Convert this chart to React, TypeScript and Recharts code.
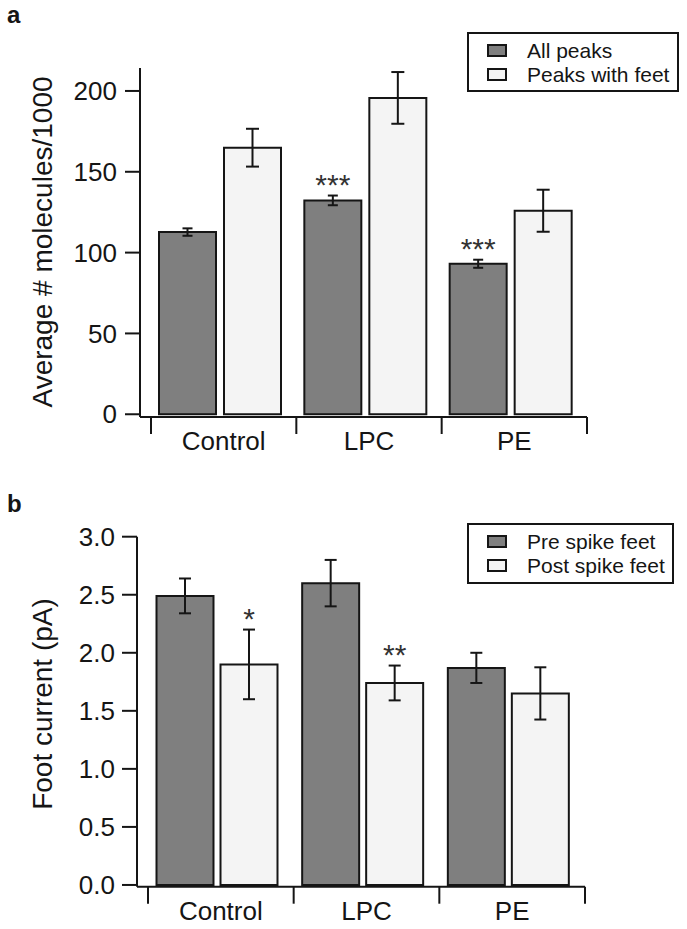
import React from "react";
import { Bar, BarChart, ErrorBar, LabelList, Legend, XAxis, YAxis } from "recharts";

const groups = ["Control", "LPC", "PE"];

// panel a
const allPeaks = [112.7, 132.3, 93.1];
const allPeaksErr = [2.3, 3, 2.5];
const allPeaksSig = ["", "***", "***"];
const peaksWithFeet = [164.9, 195.7, 125.9];
const peaksWithFeetErr = [11.7, 16, 13];
const aTicks = [0, 50, 100, 150, 200];
const aNames = ["All peaks", "Peaks with feet"];

// panel b
const preSpike = [2.49, 2.6, 1.87];
const preSpikeErr = [0.15, 0.2, 0.13];
const postSpike = [1.9, 1.74, 1.65];
const postSpikeErr = [0.3, 0.15, 0.225];
const postSpikeSig = ["*", "**", ""];
const bTicks = [0, 0.5, 1, 1.5, 2, 2.5, 3];
const bNames = ["Pre spike feet", "Post spike feet"];

const dataA = groups.map((g, i) => ({
  group: g,
  all: allPeaks[i],
  allErr: allPeaksErr[i],
  feet: peaksWithFeet[i],
  feetErr: peaksWithFeetErr[i],
}));

const dataB = groups.map((g, i) => ({
  group: g,
  pre: preSpike[i],
  preErr: preSpikeErr[i],
  post: postSpike[i],
  postErr: postSpikeErr[i],
}));

const FONT = "'Liberation Sans', Arial, Helvetica, sans-serif";
const INK = "#151515";
const DARK = "#7f7f7f";
const LIGHT = "#f4f4f4";

// x tick: category label + boundary ticks between groups
const makeTick = (axisY: number, shift: number, bw: number) => (p: any) => {
  const cx = p.x + shift;
  const last = p.index === groups.length - 1;
  return (
    <g>
      <line x1={cx - bw / 2} x2={cx - bw / 2} y1={axisY} y2={axisY + 17} stroke={INK} strokeWidth={2} />
      {last && <line x1={cx + bw / 2} x2={cx + bw / 2} y1={axisY} y2={axisY + 17} stroke={INK} strokeWidth={2} />}
      <text x={cx} y={axisY + 33} textAnchor="middle" fontSize={26} fill={INK} fontFamily={FONT}>
        {p.payload.value}
      </text>
    </g>
  );
};

// significance stars above the error bar
const makeStars = (sig: string[], err: number[]) => (p: any) => {
  const i = p.index;
  if (!sig[i]) return null;
  const vb = p.viewBox ?? p;
  const { x, y, width, height } = vb;
  const v = Number(p.value);
  const errTop = y - (err[i] * height) / v;
  return (
    <text x={x + width / 2} y={errTop - 1} textAnchor="middle" fontSize={30} fill="#333" fontFamily={FONT}>
      {sig[i]}
    </text>
  );
};

const makeLegend = (w: number, h: number, order: string[]) => (p: any) => {
  const items = [...(p.payload || [])].sort((a: any, b: any) => order.indexOf(a.value) - order.indexOf(b.value));
  return (
    <svg width={w} height={h} style={{ display: "block" }}>
      <rect x={1} y={1} width={w - 2} height={h - 2} fill="#fff" stroke={INK} strokeWidth={2} />
      {items.map((it: any, i: number) => (
        <g key={i}>
          <rect x={21} y={13 + i * 24} width={18} height={11} fill={it.color} stroke={INK} strokeWidth={2} />
          <text x={60} y={26 + i * 24} fontSize={21} fill={INK} fontFamily={FONT}>
            {it.value}
          </text>
        </g>
      ))}
    </svg>
  );
};

const PanelTitle = ({ letter, y }: { letter: string; y: number }) => (
  <div
    style={{
      position: "absolute",
      left: 7,
      top: y,
      fontFamily: FONT,
      fontWeight: "bold",
      fontSize: 24,
      lineHeight: "26px",
      color: INK,
    }}
  >
    {letter}
  </div>
);

export default function App() {
  return (
    <div style={{ position: "absolute", left: 0, top: 0, width: 687, height: 929, background: "#fff", fontFamily: FONT }}>
      <div style={{ position: "absolute", left: 0, top: 0 }}>
        <BarChart width={687} height={460} data={dataA} margin={{ top: 68, right: 100, left: 0, bottom: 0 }} barGap={8} barSize={57}>
          <XAxis
            dataKey="group"
            height={43}
            padding={{ left: 7, right: 4 }}
            axisLine={{ stroke: INK, strokeWidth: 2 }}
            tickLine={false}
            interval={0}
            tick={makeTick(417, 4, 436 / 3)}
          />
          <YAxis
            width={140}
            domain={[-1.7, 214.2]}
            allowDataOverflow
            ticks={aTicks}
            interval={0}
            tickSize={15}
            tickMargin={8}
            axisLine={{ stroke: INK, strokeWidth: 2 }}
            tickLine={{ stroke: INK, strokeWidth: 2 }}
            tick={{ fill: INK, fontSize: 26, fontFamily: FONT }}
            label={{
              content: () => (
                <text x={42} y={242} transform="rotate(-90 42 242)" textAnchor="middle" dominantBaseline="central" fontSize={28} fill={INK} fontFamily={FONT}>
                  Average # molecules/1000
                </text>
              ),
            }}
          />
          <Legend
            layout="vertical"
            align="center"
            verticalAlign="middle"
            content={makeLegend(212, 60, aNames)}
            wrapperStyle={{ position: "absolute", left: 467, top: 32, width: 212, height: 60 }}
          />
          <Bar dataKey="all" name={aNames[0]} fill={DARK} stroke={INK} strokeWidth={2} isAnimationActive={false}>
            <ErrorBar dataKey="allErr" width={5} stroke={INK} strokeWidth={2} />
            <LabelList dataKey="all" content={makeStars(allPeaksSig, allPeaksErr)} />
          </Bar>
          <Bar dataKey="feet" name={aNames[1]} fill={LIGHT} stroke={INK} strokeWidth={2} isAnimationActive={false}>
            <ErrorBar dataKey="feetErr" width={6.5} stroke={INK} strokeWidth={2} />
          </Bar>
        </BarChart>
      </div>

      <div style={{ position: "absolute", left: 0, top: 470 }}>
        <BarChart width={687} height={460} data={dataB} margin={{ top: 66.7, right: 102, left: 0, bottom: 0 }} barGap={7} barSize={57}>
          <XAxis
            dataKey="group"
            height={43.3}
            padding={{ left: 7.5, right: 3.5 }}
            axisLine={{ stroke: INK, strokeWidth: 2 }}
            tickLine={false}
            interval={0}
            tick={makeTick(416.7, 3.5, 437 / 3)}
          />
          <YAxis
            width={137}
            domain={[-0.015, 3]}
            allowDataOverflow
            ticks={bTicks}
            interval={0}
            tickSize={15}
            tickMargin={7}
            tickFormatter={(v: number) => v.toFixed(1)}
            axisLine={{ stroke: INK, strokeWidth: 2 }}
            tickLine={{ stroke: INK, strokeWidth: 2 }}
            tick={{ fill: INK, fontSize: 26, fontFamily: FONT }}
            label={{
              content: () => (
                <text x={42} y={234} transform="rotate(-90 42 234)" textAnchor="middle" dominantBaseline="central" fontSize={28} fill={INK} fontFamily={FONT}>
                  Foot current (pA)
                </text>
              ),
            }}
          />
          <Legend
            layout="vertical"
            align="center"
            verticalAlign="middle"
            content={makeLegend(207, 61, bNames)}
            wrapperStyle={{ position: "absolute", left: 467, top: 53, width: 207, height: 61 }}
          />
          <Bar dataKey="pre" name={bNames[0]} fill={DARK} stroke={INK} strokeWidth={2} isAnimationActive={false}>
            <ErrorBar dataKey="preErr" width={6} stroke={INK} strokeWidth={2} />
          </Bar>
          <Bar dataKey="post" name={bNames[1]} fill={LIGHT} stroke={INK} strokeWidth={2} isAnimationActive={false}>
            <ErrorBar dataKey="postErr" width={6} stroke={INK} strokeWidth={2} />
            <LabelList dataKey="post" content={makeStars(postSpikeSig, postSpikeErr)} />
          </Bar>
        </BarChart>
      </div>

      <PanelTitle letter="a" y={2} />
      <PanelTitle letter="b" y={491} />
    </div>
  );
}
